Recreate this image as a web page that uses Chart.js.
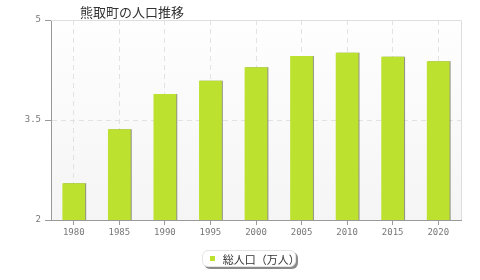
<!DOCTYPE html>
<html>
<head>
<meta charset="utf-8">
<script src="https://cdn.jsdelivr.net/npm/chart.js@4/dist/chart.umd.min.js"></script>
<style>
  body { margin: 0; background: #fff; }
  #wrap { position: relative; width: 480px; height: 280px; }
  #title {
    position: absolute; left: 80px; top: 2px;
    font: 13px "Noto Sans CJK JP", sans-serif; color: #333;
  }
  #legend {
    position: absolute; left: 202px; top: 250px; width: 94px; height: 17px;
    background: #fff; border: 1px solid #e4e4e4; border-radius: 6px;
    box-shadow: 2px 2px 0 #8a8a8a;
    font: 11px "Noto Sans CJK JP", sans-serif; color: #333;
    display: flex; align-items: center; box-sizing: border-box; padding-left: 7px;
  }
  #legend span.sw { width: 5px; height: 5px; margin-right: 8px; display: inline-block; }
</style>
</head>
<body>
<div id="wrap">
  <canvas id="myChart" width="480" height="280"></canvas>
  <div id="title"></div>
  <div id="legend"></div>
</div>
<script>
const chartTitle = '熊取町の人口推移';
const years = ['1980', '1985', '1990', '1995', '2000', '2005', '2010', '2015', '2020'];
const population = [2.55, 3.36, 3.89, 4.09, 4.29, 4.46, 4.51, 4.45, 4.38]; // 万人
const seriesLabel = '総人口（万人）';
const yTicks = [2, 3.5, 5];

const barGreen = '#bce12f';

document.getElementById('title').textContent = chartTitle;
document.getElementById('legend').innerHTML =
  '<span class="sw" style="background:' + barGreen + '"></span>' + seriesLabel;

// background gradient + light frame on top/right
const plotFrame = {
  id: 'plotFrame',
  beforeDraw(chart) {
    const {ctx, chartArea: a} = chart;
    const g = ctx.createLinearGradient(0, a.top, 0, a.bottom);
    g.addColorStop(0, '#fefefe');
    g.addColorStop(1, '#f5f5f5');
    ctx.save();
    ctx.fillStyle = g;
    ctx.fillRect(a.left, a.top, a.right - a.left, a.bottom - a.top);
    ctx.restore();
  },
  afterDraw(chart) {
    const {ctx, chartArea: a} = chart;
    ctx.save();
    ctx.strokeStyle = '#dedede';
    ctx.lineWidth = 1;
    ctx.beginPath();
    ctx.moveTo(a.left, a.top + 0.5);
    ctx.lineTo(a.right + 0.5, a.top + 0.5);
    ctx.lineTo(a.right + 0.5, a.bottom);
    ctx.stroke();
    ctx.restore();
  }
};

// small shadow on the bars
const barShadow = {
  id: 'barShadow',
  beforeDatasetsDraw(chart) {
    const ctx = chart.ctx;
    ctx.save();
    ctx.shadowColor = 'rgba(60,60,40,0.55)';
    ctx.shadowOffsetX = 1;
    ctx.shadowOffsetY = 0;
    ctx.shadowBlur = 0;
  },
  afterDatasetsDraw(chart) {
    chart.ctx.restore();
  }
};

const tickFont = { family: 'DejaVu Sans Mono', size: 9 };

new Chart(document.getElementById('myChart').getContext('2d'), {
  type: 'bar',
  data: {
    labels: years,
    datasets: [{
      label: seriesLabel,
      data: population,
      backgroundColor: barGreen,
      borderWidth: 0,
      barPercentage: 0.5,
      categoryPercentage: 1
    }]
  },
  options: {
    responsive: false,
    animation: false,
    layout: { padding: { top: 20, right: 19, left: 0, bottom: 0 } },
    scales: {
      x: {
        afterFit(scale) { scale.height = 60; },
        grid: {
          offset: false,
          color: '#e2e2e2',
          tickColor: '#999',
          tickLength: 5,
          tickBorderDash: []
        },
        border: { color: '#999', width: 1, dash: [5, 4] },
        ticks: { color: '#777', font: tickFont, padding: 2, maxRotation: 0 }
      },
      y: {
        min: 2,
        max: 5,
        afterFit(scale) { scale.width = 51; },
        afterBuildTicks(scale) { scale.ticks = yTicks.map(v => ({ value: v })); },
        grid: {
          color: ctx => (ctx.tick && ctx.tick.value === 3.5) ? '#e2e2e2' : 'rgba(0,0,0,0)',
          tickColor: '#999',
          tickLength: 6,
          tickBorderDash: []
        },
        border: { color: '#999', width: 1, dash: [5, 4] },
        ticks: { color: '#777', font: tickFont, padding: 4 }
      }
    },
    plugins: {
      legend: { display: false },
      title: { display: false },
      tooltip: { enabled: false }
    }
  },
  plugins: [plotFrame, barShadow]
});
</script>
</body>
</html>
